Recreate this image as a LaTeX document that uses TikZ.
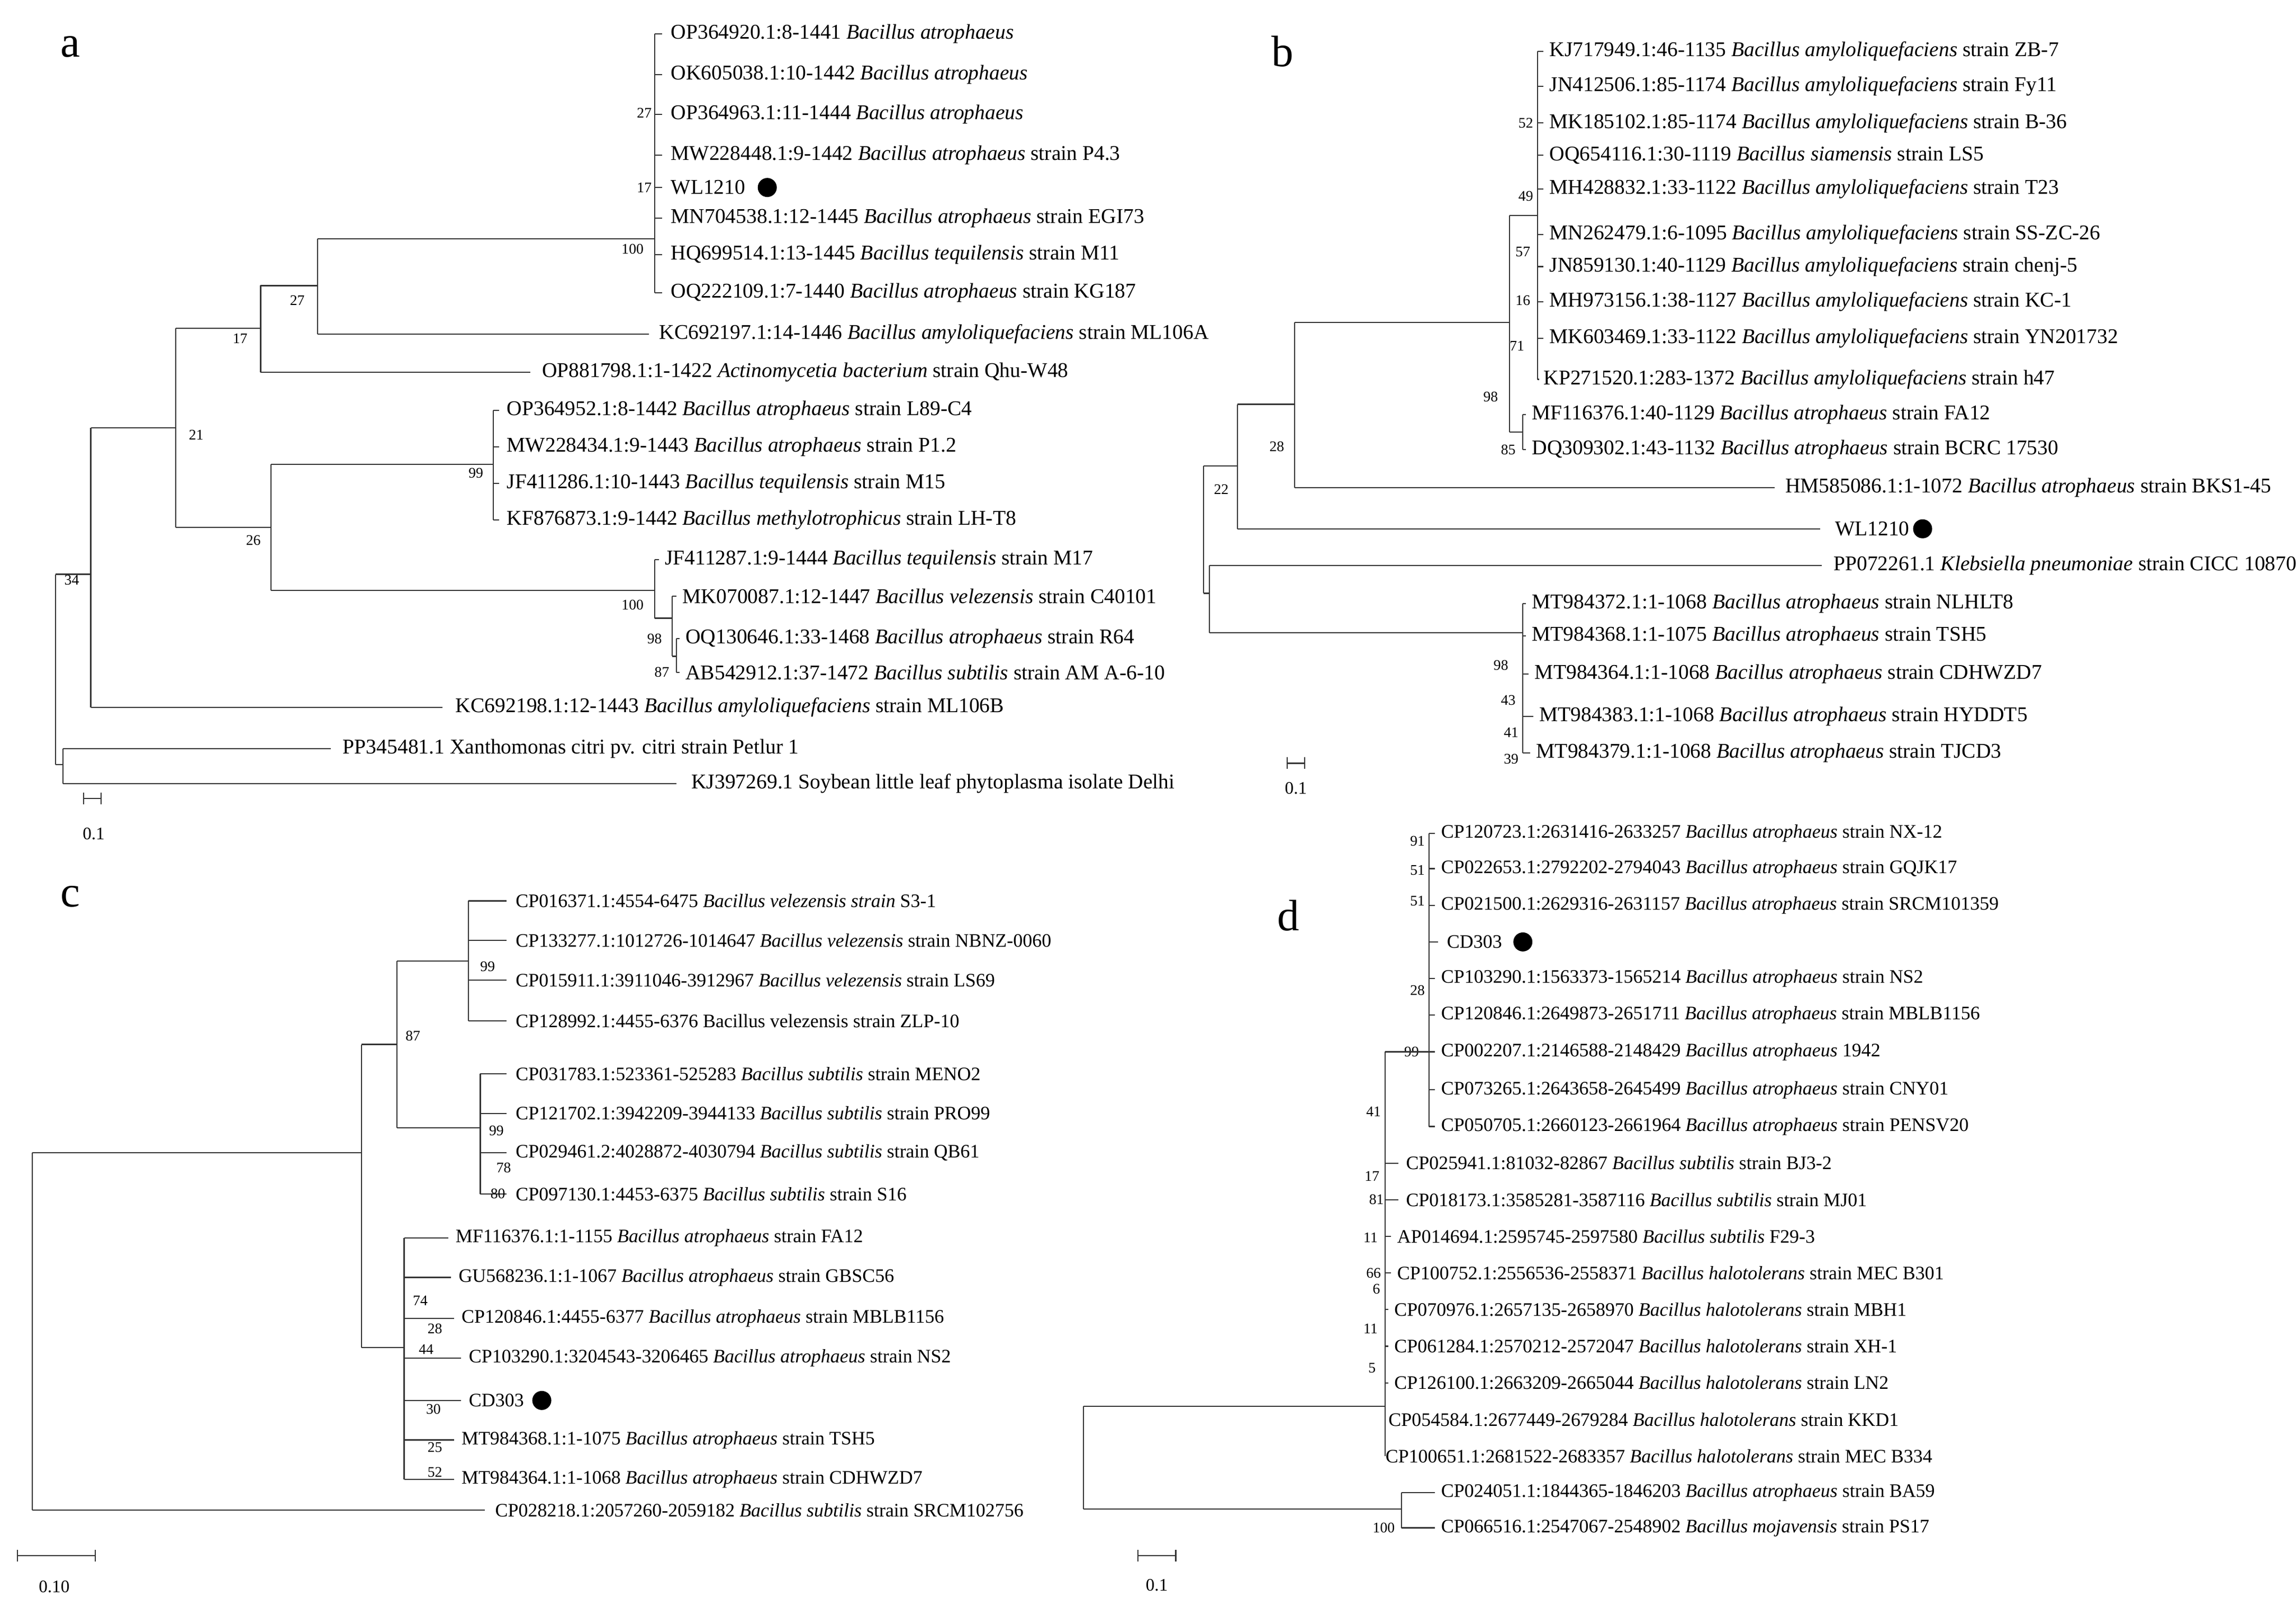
\documentclass[tikz,border=0pt]{standalone}
\usepackage{fontspec}
\setmainfont{Liberation Serif}
\begin{document}
\newcommand\B[1]{\textit{Bacillus #1}}
\newcommand\lf[5]{\draw[br] (#1,#4) -- (#2,#4); \node[lab] at (#3,#4) {#5};}
\newcommand\vl[3]{\draw[br] (#1,#2) -- (#1,#3);}
\newcommand\hl[3]{\draw[br] (#1,#3) -- (#2,#3);}
\newcommand\bs[3]{\node[bsn] at (#1,#2) {#3};}
\begin{tikzpicture}[x=1pt,y=-1pt,
  br/.style={line width=0.8pt,black!80},
  lab/.style={anchor=west,inner sep=0pt,font=\fontsize{13}{13}\selectfont},
  labbig/.style={lab/.style={anchor=west,inner sep=0pt,font=\fontsize{14.3}{14.3}\selectfont}},
  bsn/.style={inner sep=0pt,font=\fontsize{10}{10}\selectfont},
  big/.style={inner sep=0pt,font=\fontsize{30}{30}\selectfont}]
\useasboundingbox (0,0) rectangle (1568,1097);
\fill[white] (0,0) rectangle (1568,1097);
% ---------------- a
\begin{scope}[labbig]
\node[big] (la) at (48,32) {a};
\vl{447}{23}{200}
\lf{447}{452}{458}{23}{OP364920.1:8-1441 \B{atrophaeus}}
\lf{447}{452}{458}{51}{OK605038.1:10-1442 \B{atrophaeus}}
\lf{447}{452}{458}{78}{OP364963.1:11-1444 \B{atrophaeus}}
\lf{447}{452}{458}{106}{MW228448.1:9-1442 \B{atrophaeus} strain P4.3}
\lf{447}{452}{458}{128}{WL1210}
\fill (524,128) circle (6.5);
\lf{447}{452}{458}{149}{MN704538.1:12-1445 \B{atrophaeus} strain EGI73}
\lf{447}{452}{458}{174}{HQ699514.1:13-1445 \B{tequilensis} strain M11}
\lf{447}{452}{458}{200}{OQ222109.1:7-1440 \B{atrophaeus} strain KG187}
\bs{440}{77}{27}\bs{440}{128}{17}\bs{432}{170}{100}
\vl{217}{163}{228}\hl{217}{447}{163}
\lf{217}{443}{450}{228}{KC692197.1:14-1446 \B{amyloliquefaciens} strain ML106A}
\bs{203}{205}{27}
\vl{178}{195}{254}\hl{178}{217}{195}
\lf{178}{362}{370}{254}{OP881798.1:1-1422 \textit{Actinomycetia bacterium} strain Qhu-W48}
\bs{164}{231}{17}
\vl{120}{224}{360}\hl{120}{178}{224}
\bs{134}{297}{21}
\vl{185}{317}{403}\hl{120}{185}{360}
\bs{173}{369}{26}
\vl{337}{280}{355}\hl{185}{337}{317}
\lf{337}{341}{346}{280}{OP364952.1:8-1442 \B{atrophaeus} strain L89-C4}
\lf{337}{341}{346}{305}{MW228434.1:9-1443 \B{atrophaeus} strain P1.2}
\lf{337}{341}{346}{330}{JF411286.1:10-1443 \B{tequilensis} strain M15}
\lf{337}{341}{346}{355}{KF876873.1:9-1442 \B{methylotrophicus} strain LH-T8}
\bs{325}{323}{99}
\vl{447}{382}{422}\hl{185}{447}{403}
\lf{447}{450}{454}{382}{JF411287.1:9-1444 \B{tequilensis} strain M17}
\bs{432}{413}{100}
\vl{459}{407}{448}\hl{447}{459}{422}
\lf{459}{462}{466}{407}{MK070087.1:12-1447 \B{velezensis} strain C40101}
\vl{462}{436}{459}\hl{459}{462}{448}
\lf{462}{464}{468}{436}{OQ130646.1:33-1468 \B{atrophaeus} strain R64}
\lf{462}{464}{468}{459}{AB542912.1:37-1472 \B{subtilis} strain AM A-6-10}
\bs{447}{436}{98}\bs{452}{459}{87}
\vl{62}{292}{483}\hl{62}{120}{292}
\lf{62}{302}{311}{483}{KC692198.1:12-1443 \B{amyloliquefaciens} strain ML106B}
\bs{49}{396}{34}
\vl{38}{392}{522}\hl{38}{62}{392}
\vl{43}{511}{535}\hl{38}{43}{522}
\lf{43}{226}{234}{511}{PP345481.1 Xanthomonas citri pv. citri strain Petlur 1}
\lf{43}{462}{472}{535}{KJ397269.1 Soybean little leaf phytoplasma isolate Delhi}
\draw[br] (57,541)--(57,549) (57,545)--(69,545) (69,541)--(69,549);
\node[bsn,font=\fontsize{12}{12}\selectfont] at (64,569) {0.1};
\end{scope}
% ---------------- b
\begin{scope}[labbig]
\node[big] (lb) at (876,35) {b};
\vl{1050}{35}{259}
\lf{1050}{1054}{1058}{35}{KJ717949.1:46-1135 \B{amyloliquefaciens} strain ZB-7}
\lf{1050}{1054}{1058}{59}{JN412506.1:85-1174 \B{amyloliquefaciens} strain Fy11}
\lf{1050}{1054}{1058}{84}{MK185102.1:85-1174 \B{amyloliquefaciens} strain B-36}
\lf{1050}{1054}{1058}{106}{OQ654116.1:30-1119 \B{siamensis} strain LS5}
\lf{1050}{1054}{1058}{129}{MH428832.1:33-1122 \B{amyloliquefaciens} strain T23}
\lf{1050}{1054}{1058}{160}{MN262479.1:6-1095 \B{amyloliquefaciens} strain SS-ZC-26}
\lf{1050}{1054}{1058}{182}{JN859130.1:40-1129 \B{amyloliquefaciens} strain chenj-5}
\lf{1050}{1054}{1058}{206}{MH973156.1:38-1127 \B{amyloliquefaciens} strain KC-1}
\lf{1050}{1054}{1058}{231}{MK603469.1:33-1122 \B{amyloliquefaciens} strain YN201732}
\lf{1050}{1051}{1054}{259}{KP271520.1:283-1372 \B{amyloliquefaciens} strain h47}
\bs{1042}{84}{52}\bs{1042}{134}{49}\bs{1040}{172}{57}\bs{1040}{205}{16}\bs{1036}{236}{71}
\vl{1040}{283}{307}
\lf{1040}{1042}{1046}{283}{MF116376.1:40-1129 \B{atrophaeus} strain FA12}
\lf{1040}{1042}{1046}{307}{DQ309302.1:43-1132 \B{atrophaeus} strain BCRC 17530}
\bs{1030}{307}{85}
\vl{1031}{147}{295}\hl{1031}{1050}{147}\hl{1031}{1040}{295}
\bs{1018}{271}{98}
\vl{884}{220}{333}\hl{884}{1031}{220}
\lf{884}{1212}{1219}{333}{HM585086.1:1-1072 \B{atrophaeus} strain BKS1-45}
\bs{872}{305}{28}
\vl{845}{276}{361}\hl{845}{884}{276}
\lf{845}{1243}{1253}{361}{WL1210}
\fill (1313,361) circle (6.5);
\bs{834}{334}{22}
\vl{822}{318}{405}\hl{822}{845}{318}
\vl{826}{386}{432}\hl{822}{826}{405}
\lf{826}{1244}{1252}{386}{PP072261.1 \textit{Klebsiella pneumoniae} strain CICC 10870}
\vl{1040}{412}{514}\hl{826}{1040}{432}
\lf{1040}{1042}{1046}{412}{MT984372.1:1-1068 \B{atrophaeus} strain NLHLT8}
\lf{1040}{1042}{1046}{434}{MT984368.1:1-1075 \B{atrophaeus} strain TSH5}
\lf{1040}{1044}{1048}{460}{MT984364.1:1-1068 \B{atrophaeus} strain CDHWZD7}
\lf{1040}{1047}{1051}{489}{MT984383.1:1-1068 \B{atrophaeus} strain HYDDT5}
\lf{1040}{1045}{1049}{514}{MT984379.1:1-1068 \B{atrophaeus} strain TJCD3}
\bs{1025}{454}{98}\bs{1030}{478}{43}\bs{1032}{500}{41}\bs{1032}{518}{39}
\draw[br] (879,517)--(879,525) (879,521)--(891,521) (891,517)--(891,525);
\node[bsn,font=\fontsize{12}{12}\selectfont] at (885,538) {0.1};
\end{scope}
% ---------------- c
\node[big] (lc) at (48,612) {c};
\vl{320}{615}{697}
\lf{320}{346}{352}{615}{CP016371.1:4554-6475 \textit{Bacillus velezensis strain} S3-1}
\lf{320}{346}{352}{642}{CP133277.1:1012726-1014647 \B{velezensis} strain NBNZ-0060}
\lf{320}{346}{352}{669}{CP015911.1:3911046-3912967 \B{velezensis} strain LS69}
\lf{320}{346}{352}{697}{CP128992.1:4455-6376 Bacillus velezensis strain ZLP-10}
\bs{333}{660}{99}
\vl{271}{656}{770}\hl{271}{320}{656}
\bs{282}{707}{87}
\vl{328}{733}{815}\hl{271}{328}{770}
\lf{328}{346}{352}{733}{CP031783.1:523361-525283 \B{subtilis} strain MENO2}
\lf{328}{346}{352}{760}{CP121702.1:3942209-3944133 \B{subtilis} strain PRO99}
\lf{328}{346}{352}{787}{CP029461.2:4028872-4030794 \B{subtilis} strain QB61}
\lf{328}{346}{352}{815}{CP097130.1:4453-6375 \B{subtilis} strain S16}
\bs{339}{772}{99}\bs{344}{797}{78}\bs{340}{815}{80}
\vl{247}{713}{920}\hl{247}{271}{713}
\vl{276}{845}{1010}\hl{247}{276}{920}
\lf{276}{306}{311}{845}{MF116376.1:1-1155 \B{atrophaeus} strain FA12}
\lf{276}{308}{313}{872}{GU568236.1:1-1067 \B{atrophaeus} strain GBSC56}
\lf{276}{310}{315}{900}{CP120846.1:4455-6377 \B{atrophaeus} strain MBLB1156}
\lf{276}{315}{320}{927}{CP103290.1:3204543-3206465 \B{atrophaeus} strain NS2}
\lf{276}{315}{320}{956}{CD303}
\fill (370,956) circle (6.5);
\lf{276}{310}{315}{983}{MT984368.1:1-1075 \B{atrophaeus} strain TSH5}
\lf{276}{310}{315}{1010}{MT984364.1:1-1068 \B{atrophaeus} strain CDHWZD7}
\bs{287}{888}{74}\bs{297}{907}{28}\bs{291}{921}{44}\bs{296}{962}{30}\bs{297}{988}{25}\bs{297}{1005}{52}
\vl{22}{787}{1031}\hl{22}{247}{787}
\lf{22}{331}{338}{1031}{CP028218.1:2057260-2059182 \B{subtilis} strain SRCM102756}
\draw[br] (12,1058)--(12,1066) (12,1062)--(65,1062) (65,1058)--(65,1066);
\node[bsn,font=\fontsize{12}{12}\selectfont] at (37,1083) {0.10};
% ---------------- d
\node[big] (ld) at (880,625) {d};
\vl{976}{569}{769}
\lf{976}{980}{984}{569}{CP120723.1:2631416-2633257 \B{atrophaeus} strain NX-12}
\lf{976}{980}{984}{593}{CP022653.1:2792202-2794043 \B{atrophaeus} strain GQJK17}
\lf{976}{980}{984}{618}{CP021500.1:2629316-2631157 \B{atrophaeus} strain SRCM101359}
\lf{976}{982}{988}{643}{CD303}
\fill (1040,643) circle (6.5);
\lf{976}{980}{984}{668}{CP103290.1:1563373-1565214 \B{atrophaeus} strain NS2}
\lf{976}{980}{984}{693}{CP120846.1:2649873-2651711 \B{atrophaeus} strain MBLB1156}
\lf{976}{980}{984}{718}{CP002207.1:2146588-2148429 \B{atrophaeus} 1942}
\lf{976}{980}{984}{744}{CP073265.1:2643658-2645499 \B{atrophaeus} strain CNY01}
\lf{976}{980}{984}{769}{CP050705.1:2660123-2661964 \B{atrophaeus} strain PENSV20}
\bs{968}{574}{91}\bs{968}{594}{51}\bs{968}{615}{51}\bs{968}{676}{28}\bs{964}{718}{99}
\vl{946}{718}{994}\hl{946}{976}{718}
\lf{946}{955}{960}{794}{CP025941.1:81032-82867 \B{subtilis} strain BJ3-2}
\lf{946}{955}{960}{819}{CP018173.1:3585281-3587116 \B{subtilis} strain MJ01}
\lf{946}{950}{954}{844}{AP014694.1:2595745-2597580 \B{subtilis} F29-3}
\lf{946}{950}{954}{869}{CP100752.1:2556536-2558371 \B{halotolerans} strain MEC B301}
\lf{946}{948}{952}{894}{CP070976.1:2657135-2658970 \B{halotolerans} strain MBH1}
\lf{946}{948}{952}{919}{CP061284.1:2570212-2572047 \B{halotolerans} strain XH-1}
\lf{946}{948}{952}{944}{CP126100.1:2663209-2665044 \B{halotolerans} strain LN2}
\lf{946}{946}{948}{969}{CP054584.1:2677449-2679284 \B{halotolerans} strain KKD1}
\lf{946}{946}{946}{994}{CP100651.1:2681522-2683357 \B{halotolerans} strain MEC B334}
\bs{938}{759}{41}\bs{937}{803}{17}\bs{940}{819}{81}\bs{936}{845}{11}\bs{938}{869}{66}\bs{940}{880}{6}\bs{936}{907}{11}\bs{937}{934}{5}
\vl{740}{960}{1030}\hl{740}{946}{960}
\vl{957}{1019}{1043}\hl{740}{957}{1030}
\lf{957}{980}{984}{1019}{CP024051.1:1844365-1846203 \B{atrophaeus} strain BA59}
\lf{957}{980}{984}{1043}{CP066516.1:2547067-2548902 \B{mojavensis} strain PS17}
\bs{945}{1043}{100}
\draw[br] (777,1058)--(777,1066) (777,1062)--(803,1062) (803,1058)--(803,1066);
\node[bsn,font=\fontsize{12}{12}\selectfont] at (790,1082) {0.1};
\end{tikzpicture}
\end{document}
